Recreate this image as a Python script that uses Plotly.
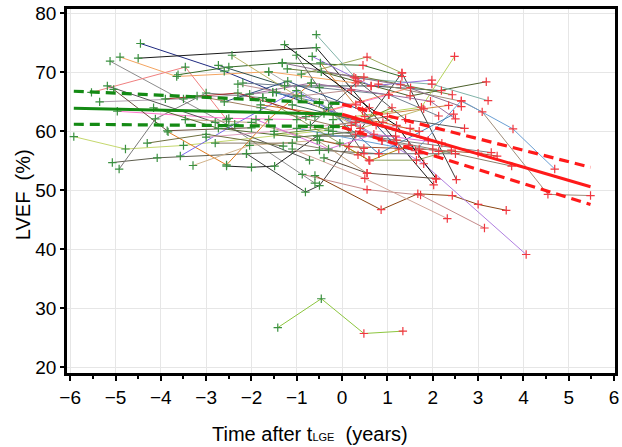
import plotly.graph_objects as go

# ---- data: individual patient trajectories (time after t_LGE in years, LVEF %) ----
patient_times = [
    [-1.42, -0.46, 0.48, 1.34],
    [-4.45, -2.6, -1.45, 0.3],
    [-4.5, -0.57, 2.02],
    [-5.12, -2.5, -0.6],
    [-4.9, -3.65, -1.62, 0.3],
    [-5.53, -3.46, -2.55],
    [-3.62, -2.5, -1.32, 0.46, 1.32],
    [-2.73, -1.27, 0.64, 2.19],
    [-5.92, -4.78, -3.5, -0.3],
    [-5.07, -4.08, -2.11, -0.5, 0.81],
    [-4.92, -4.12, -3.0, -1.75],
    [-5.35, -3.5, -1.53, 0.3],
    [-4.96, -2.5, -1.0, 1.03],
    [-5.18, -2.8, -0.72],
    [-5.04, -3.86, -2.0],
    [-3.84, -2.55, -1.62, -0.68],
    [-3.29, -2.04, -0.5, 0.48],
    [-3.57, -2.37, -1.01, 0.88],
    [-2.55, -2.0, -1.49, -0.55, 1.18],
    [-2.11, -0.81, -0.5, 1.32, 2.52],
    [-0.88, 0.55, 1.73, 3.14],
    [-0.6, 0.86, 1.67, 2.43, 3.0, 3.62],
    [-1.1, 0.5, 2.32],
    [-0.3, 1.8, 4.06],
    [0.8, 2.63, 3.09, 4.54, 5.48],
    [-1.0, 1.62, 2.63, 3.77, 4.69],
    [-0.46, 1.5, 3.18],
    [-0.5, 0.15, 1.7, 3.0, 3.42],
    [-0.9, 0.55, 1.32],
    [-0.2, 1.75, 2.48],
    [-0.57, 0.3, 1.98, 3.22],
    [-1.21, 0.48, 2.43],
    [-0.66, 0.64, 1.98],
    [-1.32, 0.26, 1.29, 2.63],
    [-2.19, -0.5, 1.03, 2.13],
    [-2.04, -0.68, 1.95, 2.5],
    [-1.53, -0.5, 0.81, 2.46],
    [-1.75, 0.59, 1.64, 2.41],
    [-1.01, 0.48, 1.69, 2.5],
    [-1.62, 0.88, 2.13],
    [-0.48, 0.5, 2.35],
    [-2.43, -1.0, 0.4, 1.8],
    [-1.27, 0.6, 1.2, 2.08],
    [-3.46, -2.0, -0.55, 0.55],
    [-4.16, -2.73, -1.0, 0.4],
    [-3.0, -1.5, 0.3, 1.5],
    [-1.8, -0.4, 0.9, 1.7],
    [-0.8, 0.4, 1.51],
    [-1.5, 0.2, 1.1],
    [-2.8, -1.1, 0.35],
    [-0.4, 0.55, 2.06],
    [-3.9, -2.3, -0.6],
    [-0.2, 1.2, 3.29],
    [0.3, 2.0, 3.74],
    [-0.05, 0.61, 1.47],
    [-2.6, -1.2, 0.45, 1.25],
    [-3.2, -1.8, -0.2, 1.0],
    [-4.3, -3.0, -1.3],
    [-1.9, -0.3, 0.7, 2.2],
    [-0.7, 0.35, 1.4, 2.7],
    [-2.3, -0.9, 0.2],
    [-1.1, 0.75, 1.9],
]
patient_lvef = [
    [26.7, 31.6, 25.7, 26.1],
    [74.9, 70.2, 66.6, 62.0],
    [72.4, 74.2, 50.9],
    [71.9, 61.0, 51.2],
    [72.6, 69.3, 70.1, 68.2],
    [66.6, 70.9, 62.0],
    [69.6, 70.9, 71.6, 71.2, 69.3],
    [71.2, 67.7, 67.7, 66.9],
    [59.1, 57.0, 57.6, 60.2],
    [54.7, 55.5, 56.2, 56.8, 56.2],
    [53.6, 62.1, 66.5, 65.7],
    [65.0, 65.5, 66.6, 64.5],
    [63.4, 62.2, 62.0, 66.2],
    [67.7, 61.5, 55.1],
    [67.1, 60.1, 60.6],
    [59.9, 54.3, 62.0, 68.2],
    [54.2, 57.6, 58.5, 57.1],
    [55.8, 61.2, 66.9, 58.4],
    [54.1, 53.9, 54.1, 59.2, 59.2],
    [56.2, 49.7, 50.8, 69.9, 51.8],
    [52.7, 50.1, 49.2, 43.6],
    [52.5, 46.7, 49.4, 49.1, 47.6, 46.6],
    [57.0, 52.0, 45.2],
    [64.0, 54.5, 39.1],
    [68.0, 65.1, 63.3, 49.3, 49.1],
    [60.5, 56.7, 65.2, 60.4, 53.6],
    [70.1, 66.0, 68.4],
    [58.5, 57.4, 57.0, 56.3, 55.8],
    [69.7, 72.6, 69.9],
    [62.0, 64.1, 72.7],
    [76.4, 69.0, 68.0, 65.2],
    [70.6, 69.2, 66.2],
    [72.7, 67.7, 68.7],
    [71.6, 69.2, 67.9, 64.2],
    [68.2, 67.4, 66.2, 62.6],
    [66.3, 68.2, 65.1, 62.1],
    [66.6, 64.9, 56.2, 62.9],
    [65.7, 55.1, 55.1, 56.8],
    [72.9, 56.2, 56.2, 56.2],
    [70.1, 58.4, 56.6],
    [71.6, 62.5, 64.4],
    [72.9, 66.0, 60.5, 63.8],
    [74.7, 64.0, 61.0, 51.9],
    [62.0, 61.5, 58.5, 52.9],
    [64.0, 60.5, 59.0, 60.0],
    [59.0, 60.0, 61.5, 60.5],
    [64.5, 63.0, 61.5, 60.0],
    [62.5, 65.0, 67.4],
    [59.5, 61.0, 64.0],
    [58.0, 58.0, 56.0],
    [55.5, 52.9, 52.0],
    [65.5, 66.5, 62.5],
    [60.0, 58.5, 56.4],
    [59.5, 57.0, 54.1],
    [58.0, 55.0, 57.6],
    [65.0, 68.5, 63.5, 57.0],
    [66.0, 64.0, 61.0, 62.5],
    [58.0, 59.5, 57.5],
    [62.0, 57.0, 59.5, 58.0],
    [61.0, 68.5, 62.0, 60.5],
    [68.0, 66.0, 67.0],
    [64.5, 61.0, 58.5],
]

# ---- fitted mean trajectories with 95% CI ----
pre_times = [-5.92, 0.0]
pre_fit = [63.9, 62.9]
pre_upper = [66.8, 64.7]
pre_lower = [61.2, 60.8]
post_times = [0.0, 5.48]
post_fit = [62.9, 50.6]
post_upper = [64.6, 53.9]
post_lower = [60.7, 47.6]

x_ticks = [-6, -5, -4, -3, -2, -1, 0, 1, 2, 3, 4, 5, 6]
x_minor = [-5.5, -4.5, -3.5, -2.5, -1.5, -0.5, 0.5, 1.5, 2.5, 3.5, 4.5, 5.5]
y_ticks = [20, 30, 40, 50, 60, 70, 80]

# ---- styles ----
palette = ["#8DC63F", "#1F2A80", "#1A1A1A", "#8C8C8C", "#F4A460", "#F08080", "#3A6B2A",
           "#2F4F4F", "#C5D86D", "#5E5E4E", "#7A7A7A", "#B0A0B0", "#FF77CC", "#555555",
           "#6B4E3D", "#E07B20", "#D2B48C", "#7B68EE", "#222222", "#3C3C3C", "#C48A8A",
           "#8B4513", "#D2A69A", "#B07FE0", "#A08D7A", "#6A9FD4", "#4B5F2A", "#A0522D",
           "#9AA85A", "#B5D35A", "#7FB3A8", "#6E7B3A", "#9370DB", "#8B6F8B", "#708090",
           "#9C6B9C", "#4682B4", "#8FA05A", "#696969", "#A9A9A9", "#CD853F", "#BDB76B",
           "#000000", "#C0A080", "#556B2F", "#E0A0C0", "#D2691E", "#FF8C69", "#6B8E23",
           "#8B7D6B", "#5F4B3B", "#A52A2A", "#7F7F7F", "#8B7D6B", "#B8860B", "#2E4E7E",
           "#9E7E5E", "#6F6F3F", "#DA70D6", "#5A5A5A", "#BC8F8F", "#3F6F5F"]
GREEN_MK = "#3A9040"
RED_MK = "#F03840"
GREEN_FIT = "#148A14"
RED_FIT = "#FF1A1A"

fig = go.Figure()
for i, (t, y) in enumerate(zip(patient_times, patient_lvef)):
    fig.add_trace(go.Scatter(x=t, y=y, mode="lines",
                             line=dict(color=palette[i % len(palette)], width=1),
                             showlegend=False, hoverinfo="skip"))

pre_x, pre_y, post_x, post_y = [], [], [], []
for t, y in zip(patient_times, patient_lvef):
    for ti, yi in zip(t, y):
        if ti < 0:
            pre_x.append(ti); pre_y.append(yi)
        else:
            post_x.append(ti); post_y.append(yi)

for xs, ys, col in [(pre_x, pre_y, GREEN_MK), (post_x, post_y, RED_MK)]:
    fig.add_trace(go.Scatter(x=xs, y=ys, mode="markers",
                             marker=dict(symbol="cross-thin", size=6,
                                         line=dict(color=col, width=1.2)),
                             showlegend=False, hoverinfo="skip"))

for ts, fit, up, lo, col in [(pre_times, pre_fit, pre_upper, pre_lower, GREEN_FIT),
                             (post_times, post_fit, post_upper, post_lower, RED_FIT)]:
    fig.add_trace(go.Scatter(x=ts, y=fit, mode="lines", line=dict(color=col, width=3),
                             showlegend=False, hoverinfo="skip"))
    for band in (up, lo):
        fig.add_trace(go.Scatter(x=ts, y=band, mode="lines",
                                 line=dict(color=col, width=3.2, dash="10px,6px"),
                                 showlegend=False, hoverinfo="skip"))

FONT = "Liberation Sans, Arial, sans-serif"
fig.update_layout(
    width=622, height=447,
    margin=dict(l=67, r=4, t=3, b=74),
    paper_bgcolor="white", plot_bgcolor="white",
    font=dict(family=FONT, color="black"),
    xaxis=dict(range=[-6.07, 6.02], tickvals=x_ticks,
               ticktext=[("\u2212" + str(-v)) if v < 0 else str(v) for v in x_ticks],
               tickfont=dict(size=19, family=FONT, color="black"),
               showgrid=True, gridcolor="#e6e6e6", gridwidth=1, zeroline=False,
               showline=True, linecolor="black", linewidth=2.5, mirror=True,
               ticks="outside", ticklen=5, tickwidth=2, tickcolor="black",
               minor=dict(tickvals=x_minor, ticks="outside", ticklen=3, tickwidth=2,
                          tickcolor="black", showgrid=False)),
    yaxis=dict(range=[19.0, 80.75], tickvals=y_ticks,
               tickfont=dict(size=19, family=FONT, color="black"),
               showgrid=True, gridcolor="#e6e6e6", gridwidth=1, zeroline=False,
               showline=True, linecolor="black", linewidth=2.5, mirror=True,
               ticks="outside", ticklen=4, tickwidth=2, tickcolor="black"),
    annotations=[
        dict(text='Time after t<span style="font-size:11px">LGE</span>  (years)',
             xref="paper", yref="paper", x=(311 - 67) / 551, y=-(435 - 373) / 370,
             xanchor="center", yanchor="middle", showarrow=False,
             font=dict(size=20, family=FONT, color="black")),
        dict(text="LVEF  (%)", xref="paper", yref="paper",
             x=-(67 - 23) / 551, y=(373 - 192) / 370, textangle=-90,
             xanchor="center", yanchor="middle", showarrow=False,
             font=dict(size=20, family=FONT, color="black")),
    ],
)

fig.write_html("out.html", config={"displayModeBar": False},
               post_script="document.body.style.margin='0';document.body.style.overflow='hidden';")
